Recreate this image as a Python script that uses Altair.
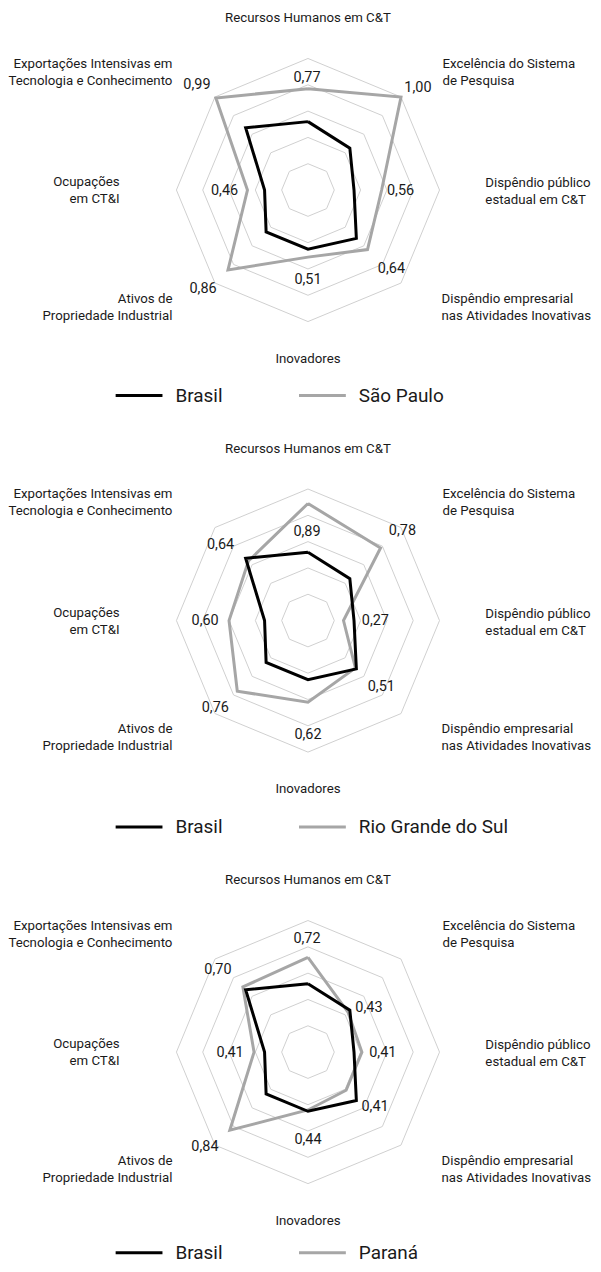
import math
import altair as alt
import pandas as pd

# ---------------- data ----------------
CATEGORIES = [
    "Recursos Humanos em C&T",
    "Excelência do Sistema\nde Pesquisa",
    "Dispêndio público\nestadual em C&T",
    "Dispêndio empresarial\nnas Atividades Inovativas",
    "Inovadores",
    "Ativos de\nPropriedade Industrial",
    "Ocupações\nem CT&I",
    "Exportações Intensivas em\nTecnologia e Conhecimento",
]
BRASIL = [0.52, 0.45, 0.35, 0.52, 0.45, 0.45, 0.33, 0.67]
SAO_PAULO = [0.77, 1.00, 0.56, 0.64, 0.51, 0.86, 0.46, 0.99]
RIO_GRANDE_DO_SUL = [0.89, 0.78, 0.27, 0.51, 0.62, 0.76, 0.60, 0.64]
PARANA = [0.72, 0.43, 0.41, 0.41, 0.44, 0.84, 0.41, 0.70]
STATES = ["São Paulo", "Rio Grande do Sul", "Paraná"]
STATE_VALUES = [SAO_PAULO, RIO_GRANDE_DO_SUL, PARANA]
GRID_LEVELS = [0.2, 0.4, 0.6, 0.8, 1.0]

# ---------------- layout (pixels) ----------------
PX = 132.0             # pixels per unit of radius
W = 585
HEIGHTS = [432, 433, 391]
CX, CY = 299.0, 179.5  # centre of radar inside each panel
LEGEND_Y = [376, 377, 371]
FONT = "Roboto"
FS = 13.3
FS_VAL = 14.5

# category label anchors: (dx, dy, align) relative to centre, y down
CAT_ANCHORS = [
    (0, -172.5, "center"), (135, -126.5, "left"), (178, -7, "left"),
    (134, 109, "left"), (0, 169.5, "center"), (-136, 109, "right"),
    (-189, -8, "right"), (-136, -126.5, "right"),
]
# value label nudges from their data point (dx, dy), y down
VALUE_NUDGES = [
    [(-1, -11), (17, -9), (19, 1), (24, 20), (0, 23), (-25, 19), (-23, 1), (-19, -13)],
    [(-1, 29), (22, -17), (32, 0), (26, 19), (0, 33), (-22, 17), (-24, 0), (-28, -16)],
    [(-1, -18), (21, -4), (21, 1), (29, 17), (0, 30), (-25, 17), (-24, 1), (-25, -17)],
]


def ang(i):
    return 2 * math.pi * i / len(CATEGORIES)


def polygon_rows(name, values):
    rows = []
    n = len(values)
    for k in range(n + 1):
        i = k % n
        rows.append({"series": name, "ord": k,
                     "x": values[i] * math.sin(ang(i)),
                     "y": values[i] * math.cos(ang(i))})
    return rows


def panel(p):
    state = STATES[p]
    vals = STATE_VALUES[p]
    h = HEIGHTS[p]
    xs = alt.Scale(domain=[-CX / PX, (W - CX) / PX], nice=False, zero=False)
    ys = alt.Scale(domain=[-(h - CY) / PX, CY / PX], nice=False, zero=False)

    grid_rows = []
    for lv in GRID_LEVELS:
        grid_rows += polygon_rows(str(lv), [lv] * len(CATEGORIES))
    grid_df = pd.DataFrame(grid_rows)

    line_df = pd.DataFrame(polygon_rows(state, vals) + polygon_rows("Brasil", BRASIL))

    lab_rows = []
    for i, v in enumerate(vals):
        dx, dy = VALUE_NUDGES[p][i]
        lab_rows.append({"x": v * math.sin(ang(i)) + dx / PX,
                         "y": v * math.cos(ang(i)) - dy / PX,
                         "t": f"{v:.2f}".replace(".", ",")})
    lab_df = pd.DataFrame(lab_rows)

    cat_rows = []
    for i, c in enumerate(CATEGORIES):
        dx, dy, al = CAT_ANCHORS[i]
        cat_rows.append({"x": dx / PX, "y": -dy / PX, "t": c, "al": al})
    cat_df = pd.DataFrame(cat_rows)

    def X():
        return alt.X("x:Q", scale=xs, axis=None)

    def Y():
        return alt.Y("y:Q", scale=ys, axis=None)

    grid = alt.Chart(grid_df).mark_line(color="#d0d0d0", strokeWidth=1).encode(
        x=X(), y=Y(), detail="series:N", order="ord:Q")

    lines = alt.Chart(line_df).mark_line(strokeWidth=3, strokeJoin="miter").encode(
        x=X(), y=Y(), detail="series:N", order="ord:Q",
        color=alt.Color("series:N",
                        scale=alt.Scale(domain=["Brasil", state], range=["#000000", "#a6a6a6"]),
                        legend=alt.Legend(
                            title=None, orient="none", legendX=120, legendY=LEGEND_Y[p],
                            direction="horizontal", symbolType="M-4,0H4",
                            symbolSize=138, symbolStrokeWidth=3,
                            labelFont=FONT, labelFontSize=19, labelColor="#1a1a1a",
                            labelOffset=27, columnPadding=70, padding=0,
                            labelLimit=300)),
    )
    brasil_line = lines.transform_filter(alt.datum.series == "Brasil")
    state_line = lines.transform_filter(alt.datum.series != "Brasil")

    values_txt = alt.Chart(lab_df).mark_text(font=FONT, fontSize=FS_VAL, color="#1a1a1a",
                                             align="center", baseline="middle").encode(
        x=X(), y=Y(), text="t:N")

    cat_layers = []
    for al in ["left", "center", "right"]:
        sub = cat_df[cat_df["al"] == al]
        cat_layers.append(
            alt.Chart(sub).mark_text(font=FONT, fontSize=FS, color="#1a1a1a", align=al,
                                     baseline="middle", lineBreak="\n", lineHeight=17).encode(
                x=X(), y=Y(), text="t:N"))

    return alt.layer(grid, state_line, brasil_line, values_txt, *cat_layers).properties(
        width=W, height=h)


chart = alt.vconcat(*[panel(p) for p in range(3)], spacing=0, bounds="flush").resolve_scale(
    color="independent").properties(padding=0).configure_view(stroke=None)

chart.save("out.html", embed_options={"renderer": "svg", "actions": False})
